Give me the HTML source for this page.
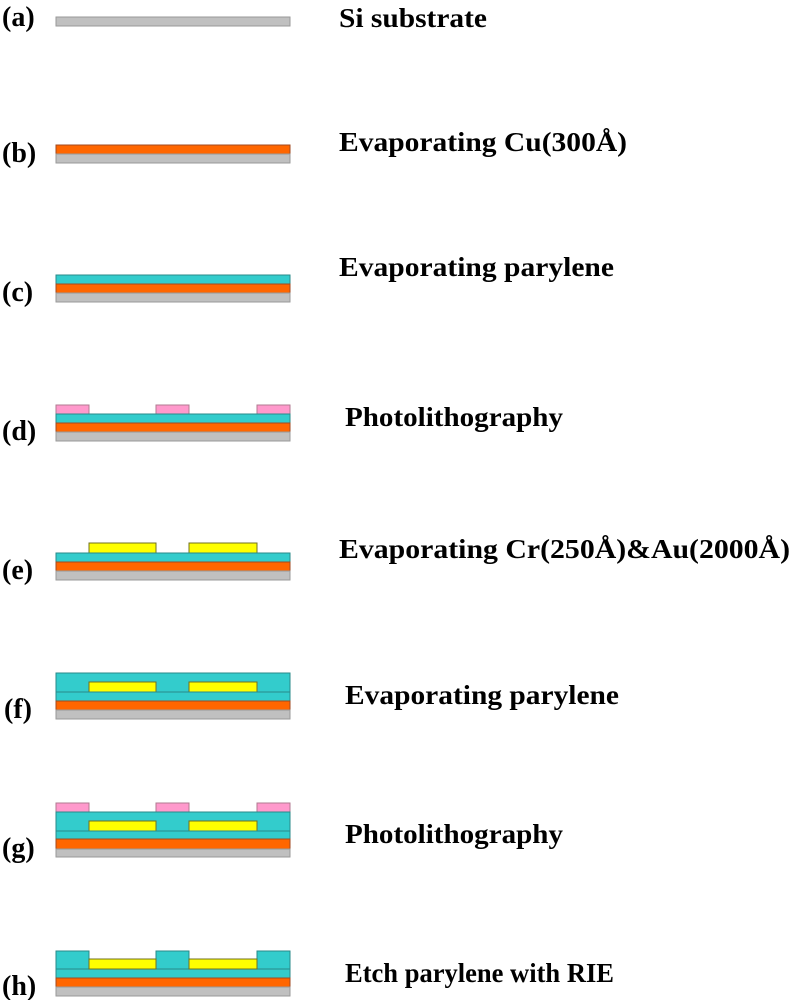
<!DOCTYPE html>
<html><head><style>html,body{margin:0;padding:0;background:#fff;}svg{display:block}</style></head>
<body>
<svg width="792" height="1000" xmlns="http://www.w3.org/2000/svg" font-family="'Liberation Serif', 'Times New Roman', serif" font-weight="bold">
<style>
text{font-family:"Liberation Serif","Times New Roman",serif;font-weight:bold;fill:#000}
.l{font-size:27px}
.p{font-size:28px}
.si{fill:#c0c0c0;stroke:#999;stroke-width:1}
.cu{fill:#ff6600;stroke:#a04a20;stroke-width:1}
.pa{fill:#33cccc;stroke:#2a8a8a;stroke-width:1}
.pk{fill:#ff99cc;stroke:#b07a90;stroke-width:1}
.au{fill:#ffff00;stroke:#707020;stroke-width:1}
</style>
<!-- a -->
<rect class="si" x="56" y="17" width="234" height="9"/>
<text class="p" x="2" y="26">(a)</text>
<text class="l" x="339" y="27" textLength="148" lengthAdjust="spacingAndGlyphs">Si substrate</text>
<!-- b -->
<rect class="cu" x="56" y="145" width="234" height="9"/>
<rect class="si" x="56" y="154" width="234" height="9"/>
<text class="p" x="2" y="162">(b)</text>
<text class="l" x="339" y="151" textLength="288" lengthAdjust="spacingAndGlyphs">Evaporating Cu(300Å)</text>
<!-- c -->
<rect class="pa" x="56" y="275" width="234" height="9"/>
<rect class="cu" x="56" y="284" width="234" height="9"/>
<rect class="si" x="56" y="293" width="234" height="9"/>
<text class="p" x="2" y="301">(c)</text>
<text class="l" x="339" y="276" textLength="275" lengthAdjust="spacingAndGlyphs">Evaporating parylene</text>
<!-- d -->
<rect class="pk" x="56" y="405" width="33" height="9"/>
<rect class="pk" x="156" y="405" width="33" height="9"/>
<rect class="pk" x="257" y="405" width="33" height="9"/>
<rect class="pa" x="56" y="414" width="234" height="9"/>
<rect class="cu" x="56" y="423" width="234" height="9"/>
<rect class="si" x="56" y="432" width="234" height="9"/>
<text class="p" x="2" y="440">(d)</text>
<text class="l" x="345" y="426" textLength="218" lengthAdjust="spacingAndGlyphs">Photolithography</text>
<!-- e -->
<rect class="au" x="89" y="543" width="67" height="10"/>
<rect class="au" x="189" y="543" width="68" height="10"/>
<rect class="pa" x="56" y="553" width="234" height="9"/>
<rect class="cu" x="56" y="562" width="234" height="9"/>
<rect class="si" x="56" y="571" width="234" height="9"/>
<text class="p" x="2" y="579">(e)</text>
<text class="l" x="339" y="558" textLength="451" lengthAdjust="spacingAndGlyphs">Evaporating Cr(250Å)&amp;Au(2000Å)</text>
<!-- f -->
<rect class="pa" x="56" y="673" width="234" height="28"/>
<rect class="au" x="89" y="682" width="67" height="10"/>
<rect class="au" x="189" y="682" width="68" height="10"/>
<line x1="56" y1="692" x2="290" y2="692" stroke="#2a8a8a"/>
<rect class="cu" x="56" y="701" width="234" height="9"/>
<rect class="si" x="56" y="710" width="234" height="9"/>
<text class="p" x="4" y="718">(f)</text>
<text class="l" x="345" y="704" textLength="274" lengthAdjust="spacingAndGlyphs">Evaporating parylene</text>
<!-- g -->
<rect class="pk" x="56" y="803" width="33" height="9"/>
<rect class="pk" x="156" y="803" width="33" height="9"/>
<rect class="pk" x="257" y="803" width="33" height="9"/>
<rect class="pa" x="56" y="812" width="234" height="27"/>
<rect class="au" x="89" y="821" width="67" height="10"/>
<rect class="au" x="189" y="821" width="68" height="10"/>
<line x1="56" y1="831" x2="290" y2="831" stroke="#2a8a8a"/>
<rect class="cu" x="56" y="839" width="234" height="10"/>
<rect class="si" x="56" y="849" width="234" height="8"/>
<text class="p" x="2" y="857">(g)</text>
<text class="l" x="345" y="843" textLength="218" lengthAdjust="spacingAndGlyphs">Photolithography</text>
<!-- h -->
<rect class="pa" x="56" y="969" width="234" height="9"/>
<rect class="pa" x="56" y="951" width="33" height="18"/>
<rect class="pa" x="156" y="951" width="33" height="18"/>
<rect class="pa" x="257" y="951" width="33" height="18"/>
<rect class="au" x="89" y="959" width="67" height="10"/>
<rect class="au" x="189" y="959" width="68" height="10"/>
<rect class="cu" x="56" y="978" width="234" height="9"/>
<rect class="si" x="56" y="987" width="234" height="9"/>
<text class="p" x="2" y="995">(h)</text>
<text class="l" x="345" y="982" textLength="269" lengthAdjust="spacingAndGlyphs">Etch parylene with RIE</text>
</svg>
</body></html>
